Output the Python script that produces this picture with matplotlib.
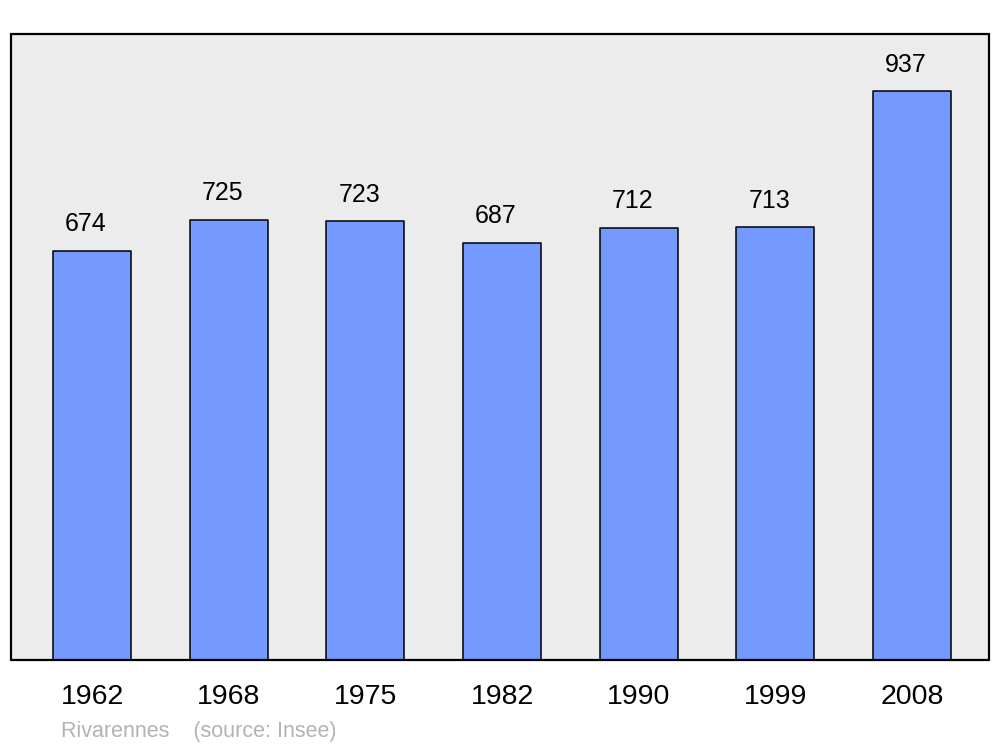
import matplotlib.pyplot as plt

plt.rcParams['font.family'] = ['Liberation Sans', 'DejaVu Sans']

years = ['1962', '1968', '1975', '1982', '1990', '1999', '2008']
population = [674, 725, 723, 687, 712, 713, 937]

fig = plt.figure(figsize=(10, 7.47), dpi=100)
ax = fig.add_axes([0.011, 1 - 660 / 747, 0.978, 626 / 747])
ax.set_facecolor('#ececec')

x = list(range(len(years)))
bars = ax.bar(x, population, width=0.57, color='#7499ff', edgecolor='black',
              linewidth=1.1, zorder=2)
for b in bars:
    b.set_joinstyle('round')

for xi, v in zip(x, population):
    ax.annotate(str(v), (xi, v), xytext=(-4.3, 19), textcoords='offset points',
                ha='center', va='center', fontsize=18)

ax.set_xlim(-0.593, 6.563)
ax.set_ylim(0, 1031)
ax.set_yticks([])
ax.set_xticks(x)
ax.set_xticklabels(years, fontsize=20.5)
ax.tick_params(axis='x', length=0, pad=17)
for s in ax.spines.values():
    s.set_linewidth(1.6)
    s.set_capstyle('round')
    s.set_joinstyle('round')

fig.text(0.061, 1 - 731 / 747, 'Rivarennes    (source: Insee)', color='#b3b3b3',
         fontsize=15.5, va='center', ha='left')

fig.savefig('out.png', dpi=100)
